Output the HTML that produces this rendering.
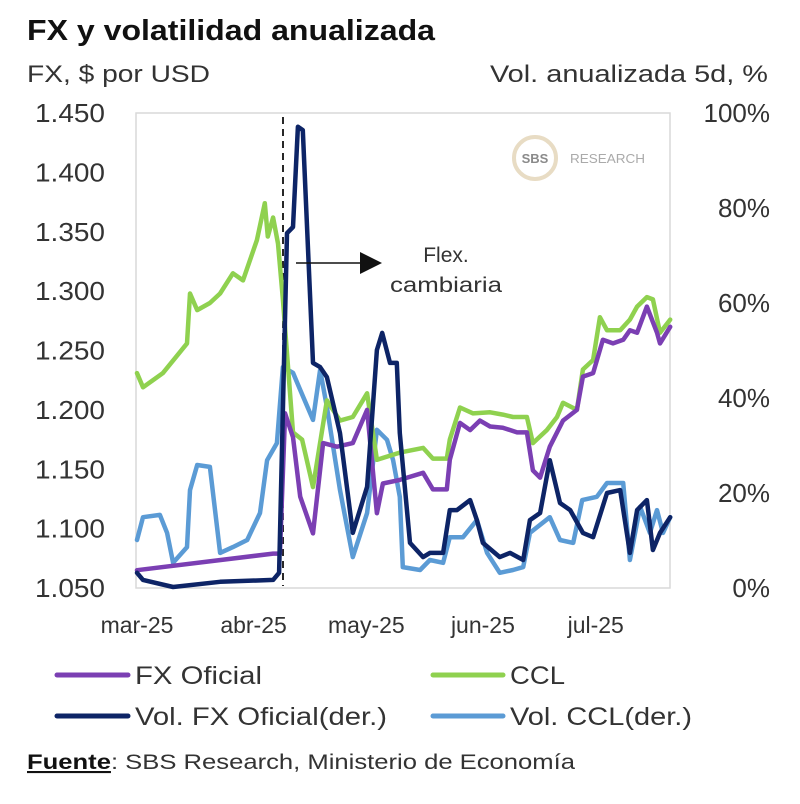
<!DOCTYPE html>
<html><head><meta charset="utf-8"><style>
html,body{margin:0;padding:0;background:#fff}
svg{display:block}
text{font-family:"Liberation Sans",sans-serif}
</style></head><body>
<svg id="chart" width="800" height="804" viewBox="0 0 800 804">
<text x="27" y="40" font-size="29" font-weight="bold" fill="#111" textLength="408" lengthAdjust="spacingAndGlyphs">FX y volatilidad anualizada</text>
<text x="27" y="82" font-size="24" fill="#333" textLength="183" lengthAdjust="spacingAndGlyphs">FX, $ por USD</text>
<text x="490" y="82" font-size="24" fill="#333" textLength="278" lengthAdjust="spacingAndGlyphs">Vol. anualizada 5d, %</text>
<rect x="136" y="113" width="534" height="475" fill="none" stroke="#d9d9d9" stroke-width="1.5"/>
<g id="ticksL"></g><g id="ticksR"></g><g id="ticksX"></g>
<g>
<circle cx="535" cy="158" r="21" fill="none" stroke="#e8dcc4" stroke-width="4"/>
<text x="535" y="163" font-size="13" font-weight="bold" fill="#8a8a8a" text-anchor="middle">SBS</text>
<text x="570" y="163" font-size="13" fill="#aaa" textLength="75" lengthAdjust="spacingAndGlyphs">RESEARCH</text>
</g>
<line x1="283" y1="117" x2="283" y2="586" stroke="#111" stroke-width="1.8" stroke-dasharray="7,5"/>
<g id="series"></g>
<line x1="296" y1="263" x2="362" y2="263" stroke="#111" stroke-width="1.5"/>
<polygon points="360,252 382,263 360,274" fill="#111"/>
<text x="446" y="262" font-size="21" fill="#333" text-anchor="middle">Flex.</text>
<text x="446" y="292" font-size="21" fill="#333" text-anchor="middle" textLength="112" lengthAdjust="spacingAndGlyphs">cambiaria</text>
<g>
<line x1="57" y1="675" x2="128" y2="675" stroke="#7b3fb3" stroke-width="5" stroke-linecap="round"/>
<text x="135" y="684" font-size="25" fill="#333" textLength="127" lengthAdjust="spacingAndGlyphs">FX Oficial</text>
<line x1="433" y1="675" x2="503" y2="675" stroke="#8fd14f" stroke-width="5" stroke-linecap="round"/>
<text x="510" y="684" font-size="25" fill="#333" textLength="55" lengthAdjust="spacingAndGlyphs">CCL</text>
<line x1="57" y1="716" x2="128" y2="716" stroke="#0d2466" stroke-width="5" stroke-linecap="round"/>
<text x="135" y="725" font-size="25" fill="#333" textLength="252" lengthAdjust="spacingAndGlyphs">Vol. FX Oficial(der.)</text>
<line x1="433" y1="716" x2="503" y2="716" stroke="#5b9bd5" stroke-width="5" stroke-linecap="round"/>
<text x="510" y="725" font-size="25" fill="#333" textLength="182" lengthAdjust="spacingAndGlyphs">Vol. CCL(der.)</text>
</g>
<text x="27" y="769" font-size="21" fill="#333" textLength="548" lengthAdjust="spacingAndGlyphs"><tspan text-decoration="underline" font-weight="bold" fill="#111">Fuente</tspan>: SBS Research, Ministerio de Economía</text>
</svg>
<script>
const leftTicks=[1.05,1.1,1.15,1.2,1.25,1.3,1.35,1.4,1.45];
const leftTickLabels=["1.050","1.100","1.150","1.200","1.250","1.300","1.350","1.400","1.450"];
const rightTicks=[0,20,40,60,80,100];
const rightTickLabels=["0%","20%","40%","60%","80%","100%"];
const monthDays=[0,31,61,92,122];
const monthLabels=["mar-25","abr-25","may-25","jun-25","jul-25"];

const cclDays=[0,1.6,6.9,13.3,14.1,16,19.4,22.1,25.5,28.2,31.9,34,34.8,36.2,37.5,38.8,41.5,43.9,46.8,50.5,54,57.4,61.2,63.8,69.9,76.1,78.7,82.4,83.2,85.9,89.4,93.9,97.3,100,103.7,105.3,109,111.7,113.3,117,118.6,121.3,123.1,125,128.5,131.1,133,135.6,137.2,139.1,141.8];
const cclValues=[1.231,1.219,1.231,1.256,1.298,1.284,1.290,1.298,1.315,1.309,1.343,1.374,1.346,1.362,1.340,1.293,1.181,1.175,1.135,1.208,1.191,1.194,1.214,1.158,1.164,1.168,1.159,1.159,1.175,1.202,1.197,1.198,1.196,1.194,1.194,1.172,1.183,1.194,1.206,1.200,1.234,1.242,1.278,1.267,1.267,1.276,1.287,1.295,1.293,1.265,1.276];

const fxDays=[0,36.2,38,39.4,41.5,43.4,46.8,49.5,53.2,57.4,61.2,63.8,65.4,69.9,76.1,78.7,82.4,83.2,85.9,88.6,91.2,93.9,97.3,101.1,103.7,105.3,107.2,109.8,113.3,117,118.6,121.3,123.9,126.6,129.3,131.1,133,135.6,138.3,139.1,141.8];
const fxValues=[1.065,1.079,1.079,1.197,1.177,1.127,1.096,1.172,1.169,1.172,1.200,1.113,1.138,1.141,1.147,1.133,1.133,1.158,1.189,1.183,1.191,1.186,1.185,1.181,1.181,1.149,1.143,1.169,1.191,1.200,1.228,1.231,1.259,1.256,1.259,1.267,1.265,1.287,1.265,1.256,1.270];

const volFxDays=[0,1.6,9.6,22.1,36.2,37.8,39.9,41.5,42.8,44.1,46.8,48.7,50.5,54,57.4,61.2,63.8,65.2,67.3,69.1,69.9,72.6,76.1,77.9,81.4,83.2,85.1,88.6,90.4,92,96.5,99.2,102.7,104.5,107.2,109.8,112.5,115.2,118.6,121.3,125,128.5,131.1,133,135.6,137.2,139.1,141.8];
const volFxValues=[3.2,1.7,0.2,1.3,1.7,3.2,74.7,76.0,97.1,96.4,47.4,46.5,44.4,32.6,11.6,21.3,50.1,53.7,47.4,47.4,32.6,9.5,6.5,7.4,7.4,16.4,16.4,18.5,14.3,9.5,6.5,7.4,5.9,14.3,15.8,26.9,17.9,16.4,11.6,10.7,20.0,20.6,7.4,16.4,18.5,8.0,11.6,14.9];

const volCclDays=[0,1.6,6.1,8,9.6,13.3,14.1,16,19.4,22.1,25.5,29.3,32.7,34.6,37.2,38.8,41.5,43.4,46.8,48.7,50.5,54,57.4,61.2,63.8,66.5,68.1,69.9,70.7,75.3,77.9,81.4,83.2,86.7,90.4,93.1,96.5,100,102.7,104.5,109.8,112.5,116,118.4,122.3,125,129.3,131.1,133.8,136.4,138.3,139.9,141.8];
const volCclValues=[10.1,14.9,15.4,11.6,5.3,8.6,20.6,25.9,25.5,7.4,8.6,10.1,15.8,26.9,30.5,46.5,45.3,41.7,35.4,45.9,38.1,20.6,6.5,15.8,33.3,31.2,26.9,19.2,4.4,3.8,5.9,5.3,10.7,10.7,14.3,7.4,3.2,3.8,4.4,11.6,14.9,10.1,9.5,18.5,19.2,22.1,22.1,5.9,17.1,11.6,16.4,11.6,14.9];

const NS="http://www.w3.org/2000/svg";
const X0=137,PXD=3.76,TOP=113,BOT=588;
function xScale(d){return X0+d*PXD;}
function yLeft(v){return BOT-(v-1.05)/(1.45-1.05)*(BOT-TOP);}
function yRight(v){return BOT-v/100*(BOT-TOP);}
function mk(tag,attrs,parent){const e=document.createElementNS(NS,tag);for(const k in attrs)e.setAttribute(k,attrs[k]);parent.appendChild(e);return e;}

const gL=document.getElementById('ticksL');
leftTicks.forEach((v,i)=>{
  const t=mk('text',{x:35,y:yLeft(v)+9,'font-size':26,fill:'#333',textLength:70,lengthAdjust:'spacingAndGlyphs'},gL);
  
  
  t.textContent=leftTickLabels[i];
});
const gR=document.getElementById('ticksR');
rightTicks.forEach((v,i)=>{
  const t=mk('text',{x:770,y:yRight(v)+9,'font-size':26,fill:'#333','text-anchor':'end'},gR);
  
  
  t.textContent=rightTickLabels[i];
});
const gX=document.getElementById('ticksX');
monthDays.forEach((d,i)=>{
  const t=mk('text',{x:xScale(d),y:633,'font-size':23,fill:'#333','text-anchor':'middle'},gX);
  
  
  t.textContent=monthLabels[i];
});

const gS=document.getElementById('series');
function drawLine(days,vals,ys,color,name){
  const pts=days.map((d,i)=>xScale(d).toFixed(1)+','+ys(vals[i]).toFixed(1)).join(' ');
  const p=mk('polyline',{points:pts,fill:'none',stroke:color,'stroke-width':4.5,'stroke-linejoin':'round','stroke-linecap':'round'},gS);
  
  
}
drawLine(volCclDays,volCclValues,yRight,'#5b9bd5','vol-ccl-line');
drawLine(cclDays,cclValues,yLeft,'#8fd14f','ccl-line');
drawLine(fxDays,fxValues,yLeft,'#7b3fb3','fx-oficial-line');
drawLine(volFxDays,volFxValues,yRight,'#0d2466','vol-fx-oficial-line');
</script>
</body></html>
